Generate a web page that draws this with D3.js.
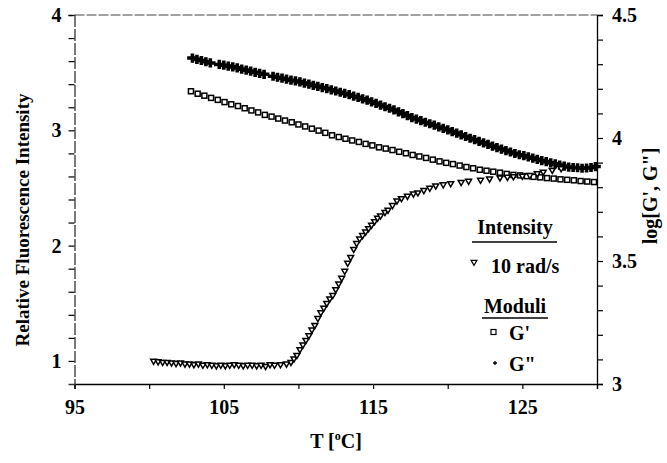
<!doctype html>
<html lang="en">
<head>
<meta charset="utf-8">
<title>Fluorescence intensity and moduli vs temperature</title>
<script src="https://cdn.jsdelivr.net/npm/d3@7/dist/d3.min.js"></script>
<style>
    body { margin: 0; background: #fff; }
    text { font-family: "Liberation Serif", "Times New Roman", serif; font-weight: bold; fill: #000; }
</style>
</head>
<body>
<script>
    // intensity at 10 rad/s (left axis)
    var tempI = [100.3,100.6,100.9,101.2,101.5,101.8,102.1,102.4,102.7,103.0,103.3,103.6,103.9,104.2,104.5,104.8,105.1,105.4,105.7,106.0,
        106.3,106.6,106.9,107.2,107.5,107.8,108.1,108.4,108.8,109.2,109.5,109.7,109.9,110.1,110.3,110.5,110.7,110.9,111.1,111.3,
        111.5,111.7,111.9,112.1,112.3,112.5,112.7,112.9,113.1,113.3,113.5,113.7,113.9,114.1,114.3,114.5,114.7,114.9,115.1,115.3,
        115.5,115.8,116.0,116.3,116.6,116.9,117.3,117.7,118.0,118.4,118.8,119.2,119.7,120.2,120.9,121.4,122.2,122.8,123.5,124.0,
        124.4,125.0,125.5,126.0,126.4,127.0,127.6];
    var intensity = [1.00,0.995,0.99,0.99,0.985,0.98,0.985,0.975,0.975,0.97,0.975,0.965,0.97,0.965,0.96,0.965,0.96,0.965,0.97,0.965,
        0.96,0.965,0.965,0.96,0.965,0.955,0.97,0.965,0.97,0.975,0.99,1.02,1.05,1.10,1.14,1.18,1.22,1.27,1.31,1.37,
        1.42,1.46,1.50,1.54,1.57,1.62,1.67,1.72,1.78,1.85,1.90,1.97,2.02,2.06,2.09,2.12,2.15,2.18,2.21,2.24,
        2.26,2.29,2.31,2.35,2.39,2.41,2.43,2.45,2.46,2.48,2.50,2.52,2.53,2.54,2.55,2.56,2.57,2.58,2.59,2.595,
        2.60,2.605,2.61,2.625,2.64,2.655,2.67];

    // G' (right axis, log)
    var tempG1 = [102.8,103.25,103.7,104.15,104.6,105.05,105.5,105.95,106.4,106.85,107.3,107.75,108.2,108.65,109.1,109.55,110.0,110.45,110.9,111.35,
        111.8,112.25,112.7,113.15,113.6,114.05,114.5,114.95,115.4,115.85,116.3,116.75,117.2,117.65,118.1,118.55,119.0,119.45,119.9,120.35,
        120.8,121.25,121.7,122.15,122.6,123.05,123.5,123.95,124.4,124.85,125.3,125.75,126.2,126.65,127.1,127.55,128.0,128.45,128.9,129.35,129.8];
    var logG1 = [4.190,4.180,4.172,4.163,4.155,4.146,4.137,4.130,4.121,4.112,4.104,4.094,4.087,4.079,4.071,4.064,4.055,4.047,4.038,4.030,
        4.021,4.011,4.004,3.997,3.990,3.984,3.976,3.970,3.962,3.957,3.951,3.944,3.938,3.931,3.925,3.919,3.912,3.905,3.899,3.894,
        3.888,3.882,3.877,3.871,3.867,3.863,3.859,3.854,3.850,3.848,3.845,3.842,3.840,3.837,3.835,3.832,3.830,3.828,3.825,3.823,3.821];

    // G'' (right axis, log)
    var tempG2 = [102.9,103.2,103.5,103.8,104.1,104.7,105.0,105.3,105.6,105.9,106.2,106.5,106.8,107.1,107.4,107.7,108.3,108.6,108.9,109.2,
        109.5,109.8,110.1,110.4,110.7,111.0,111.3,111.6,111.9,112.2,112.5,112.8,113.1,113.4,113.7,114.0,114.3,114.6,114.9,115.2,
        115.5,115.8,116.1,116.4,116.7,117.0,117.3,117.6,117.9,118.2,118.5,118.8,119.1,119.4,119.7,120.0,120.3,120.6,120.9,121.2,
        121.5,121.8,122.1,122.4,122.7,123.0,123.3,123.6,123.9,124.2,124.5,124.8,125.1,125.4,125.7,126.0,126.3,126.6,126.9,127.2,
        127.5,127.8,128.1,128.4,128.7,129.0,129.3,129.6,129.9];
    var logG2 = [4.325,4.320,4.315,4.310,4.305,4.299,4.296,4.292,4.289,4.285,4.280,4.276,4.272,4.267,4.263,4.259,4.251,4.247,4.243,4.239,
        4.235,4.232,4.228,4.223,4.219,4.214,4.210,4.205,4.201,4.196,4.191,4.186,4.181,4.176,4.170,4.165,4.159,4.154,4.147,4.141,
        4.134,4.127,4.121,4.114,4.106,4.099,4.091,4.083,4.077,4.071,4.064,4.058,4.052,4.045,4.039,4.033,4.026,4.020,4.013,4.006,
        3.999,3.993,3.986,3.980,3.974,3.967,3.961,3.955,3.949,3.943,3.937,3.932,3.928,3.923,3.918,3.913,3.908,3.904,3.899,3.895,
        3.890,3.886,3.882,3.880,3.879,3.877,3.878,3.880,3.884];

    var xTicks = [95,100,105,110,115,120,125,130];
    var xLabels = [95,105,115,125];
    var leftLabels = [1,2,3,4];
    var rightLabels = [3,3.5,4,4.5];

    var svg = d3.select("body").append("svg")
            .attr("width",667).attr("height",463);

    var x = d3.scaleLinear().domain([95,130]).range([74.5,597]);
    var yL = d3.scaleLinear().domain([0.8,4]).range([384,15]);
    var yR = d3.scaleLinear().domain([3,4.5]).range([384,15]);

    // frame: top and left are faint in the scan
    svg.append("line").attr("x1",x(95)).attr("x2",x(130)).attr("y1",yL(4)).attr("y2",yL(4))
        .attr("stroke","#444").attr("stroke-width",1.2).attr("stroke-dasharray","10,2");

    // bottom axis
    var bottom = svg.append("g").attr("transform","translate(0,384)")
        .call(d3.axisBottom(x).tickValues(xTicks).tickSize(5).tickPadding(5).tickFormat(function(d){
            return xLabels.indexOf(d) >= 0 ? d : "";
        }));
    bottom.selectAll("text").attr("font-size",20).attr("dy","1.0em");

    // left axis
    var leftTicks = d3.range(10,41,2).map(function(d){return d/10;});
    var left = svg.append("g").attr("transform","translate(74.5,0)")
        .call(d3.axisLeft(yL).tickValues(leftTicks).tickSize(6).tickPadding(7).tickFormat(function(d){
            return leftLabels.indexOf(d) >= 0 ? d : "";
        }));
    left.selectAll("text").attr("font-size",20);
    left.select(".domain").attr("stroke","#333").attr("stroke-dasharray","12,2");

    // right axis
    var rightTicks = d3.range(30,46,1).map(function(d){return d/10;});
    var right = svg.append("g").attr("transform","translate(597,0)")
        .call(d3.axisRight(yR).tickValues(rightTicks).tickSize(6).tickPadding(9).tickFormat(function(d){
            return rightLabels.indexOf(d) >= 0 ? d : "";
        }));
    right.selectAll("text").attr("font-size",20);

    svg.selectAll(".domain").attr("stroke-width",1.3);
    svg.selectAll(".tick line").attr("stroke-width",1.2);
    svg.selectAll(".tick text").style("font-family","'Liberation Serif', serif").style("font-weight","bold");

    // axis titles
    svg.append("text").attr("transform","translate(29,220) rotate(-90)")
        .attr("text-anchor","middle").attr("font-size",19)
        .text("Relative Fluorescence Intensity");
    svg.append("text").attr("transform","translate(657,196) rotate(-90)")
        .attr("text-anchor","middle").attr("font-size",20)
        .text("log[G', G\"]");
    var tt = svg.append("text").attr("x",336).attr("y",448).attr("text-anchor","middle").attr("font-size",20);
    tt.append("tspan").text("T [");
    tt.append("tspan").attr("font-size",12).attr("dy",-8).text("o");
    tt.append("tspan").attr("dy",8).text("C]");

    // marks
    var tri = d3.symbol().type(d3.symbolTriangle).size(15);
    var plus = "M-3.5,0H3.5M0,-2.8V2.8";

    var intData = tempI.map(function(t,i){return {t:t, v:intensity[i]};});
    var g1Data = tempG1.map(function(t,i){return {t:t, v:logG1[i]};});
    var g2Data = tempG2.map(function(t,i){return {t:t, v:logG2[i]};});

    svg.append("g").selectAll("path").data(g2Data).enter().append("path")
        .attr("d",plus)
        .attr("transform",function(d){return "translate(" + x(d.t) + "," + yR(d.v) + ")";})
        .attr("stroke","#000").attr("stroke-width",3.6).attr("stroke-linecap","square").attr("fill","none");

    svg.append("g").selectAll("rect").data(g1Data).enter().append("rect")
        .attr("x",function(d){return x(d.t) - 2.5;})
        .attr("y",function(d){return yR(d.v) - 2.5;})
        .attr("width",5).attr("height",5)
        .attr("fill","#fff").attr("stroke","#000").attr("stroke-width",1.5);

    svg.append("g").selectAll("path").data(intData).enter().append("path")
        .attr("d",tri)
        .attr("transform",function(d){return "translate(" + x(d.t) + "," + yL(d.v) + ") rotate(180)";})
        .attr("fill","#fff").attr("stroke","#000").attr("stroke-width",1.5);

    // legend
    var lg = svg.append("g");
    lg.append("text").attr("x",515).attr("y",234).attr("text-anchor","middle").attr("font-size",20).text("Intensity");
    lg.append("line").attr("x1",472).attr("x2",557).attr("y1",242).attr("y2",242).attr("stroke","#000").attr("stroke-width",1.4);
    lg.append("path").attr("d",tri).attr("transform","translate(474,262) rotate(180)")
        .attr("fill","#fff").attr("stroke","#000").attr("stroke-width",1.2);
    lg.append("text").attr("x",491).attr("y",273).attr("font-size",20).text("10 rad/s");
    lg.append("text").attr("x",515).attr("y",313).attr("text-anchor","middle").attr("font-size",20).text("Moduli");
    lg.append("line").attr("x1",482).attr("x2",548).attr("y1",318).attr("y2",318).attr("stroke","#000").attr("stroke-width",1.4);
    lg.append("rect").attr("x",491).attr("y",329.5).attr("width",5).attr("height",5)
        .attr("fill","#fff").attr("stroke","#000").attr("stroke-width",1.2);
    lg.append("text").attr("x",509).attr("y",340).attr("font-size",20).text("G'");
    lg.append("path").attr("d","M-2,0H2M0,-2V2").attr("transform","translate(495,363)")
        .attr("stroke","#000").attr("stroke-width",1.3);
    lg.append("text").attr("x",509).attr("y",371).attr("font-size",20).text("G\"");
</script>
</body>
</html>
